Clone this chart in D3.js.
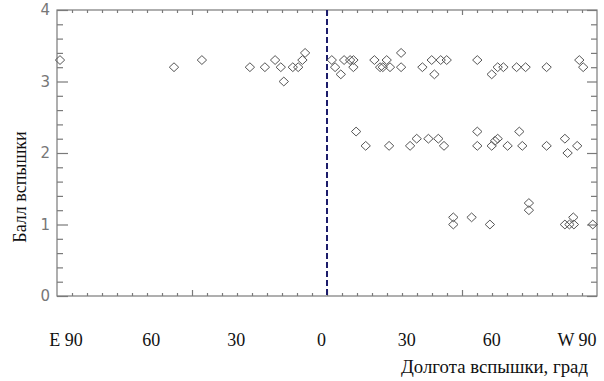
<!DOCTYPE html>
<html>
<head>
  <meta charset="utf-8">
  <script src="https://cdn.jsdelivr.net/npm/d3@7"></script>
  <style>
    body { margin: 0; background: #fff; }
    .frame { fill: none; stroke: #7a7a7a; stroke-width: 1.2; }
    .ax path { display: none; }
    .ax line { stroke: #7a7a7a; stroke-width: 1.2; }
    .ylab text { font-family: "DejaVu Sans", sans-serif; font-size: 15px; fill: #777; }
    .serif { font-family: "Liberation Serif", serif; fill: #111; }
  </style>
</head>
<body>
  <div id="chart"></div>
  <script>
    // flare points: longitude (E negative, W positive) and class score
    const lon = [
      -89, -51, -41.7, -25.7, -20.7, -17.3, -15.4, -14.4, -11.4, -9.6, -8.2, -7.3,
      1.6, 2.7, 4.6, 5.7, 7.7, 8.8, 8.8, 15.8, 17.7, 18.6, 19.9, 21, 24.7, 24.7,
      31.8, 34.9, 35.8, 37.9, 39.9, 50.1, 54.9, 56.9, 58.8, 63.2, 66.2, 73.2, 84.1, 85.4,
      9.7, 12.9, 20.7, 27.7, 29.9, 33.8, 37.1, 39, 50.1, 50.1, 54.9, 56, 56.9, 60.2,
      64.1, 65.1, 73.2, 79.3, 80.2, 83.4,
      42.1, 42.1, 48.2, 54.3, 67.3, 67.3, 79.3, 80.8, 82.1, 82.3, 88.6
    ];
    const score = [
      3.3, 3.2, 3.3, 3.2, 3.2, 3.3, 3.2, 3.0, 3.2, 3.2, 3.3, 3.4,
      3.3, 3.2, 3.1, 3.3, 3.3, 3.3, 3.2, 3.3, 3.2, 3.2, 3.3, 3.2, 3.4, 3.2,
      3.2, 3.3, 3.1, 3.3, 3.3, 3.3, 3.1, 3.2, 3.2, 3.2, 3.2, 3.2, 3.3, 3.2,
      2.3, 2.1, 2.1, 2.1, 2.2, 2.2, 2.2, 2.1, 2.3, 2.1, 2.1, 2.17, 2.2, 2.1,
      2.3, 2.1, 2.1, 2.2, 2.0, 2.1,
      1.1, 1.0, 1.1, 1.0, 1.3, 1.2, 1.0, 1.0, 1.1, 1.0, 1.0
    ];
    const lonLabelVals = [-90, -60, -30, 0, 30, 60, 90];
    const lonLabels = ["E 90", "60", "30", "0", "30", "60", "W 90"];
    const yTicks = [0, 1, 2, 3, 4];

    const data = lon.map((d, i) => ({lon: d, score: score[i]}));

    const W = 604, H = 381;
    const margin = {top: 10, right: 7, bottom: 85, left: 57};
    const width = W - margin.left - margin.right;
    const height = H - margin.top - margin.bottom;

    const svg = d3.select("#chart").append("svg")
      .attr("width", W).attr("height", H);
    const g = svg.append("g")
      .attr("transform", `translate(${margin.left},${margin.top})`);

    const x = d3.scaleLinear().domain([-90, 90]).range([0, width]);
    const y = d3.scaleLinear().domain([0, 4]).range([height, 0]);
    // hand-placed longitude labels sit a bit inside the frame
    const xl = d3.scaleLinear().domain([-90, 90]).range([9, 520]);

    const minorX = d3.range(-90, 91, 5).filter(v => v % 45 !== 0);
    const majorX = [-45, 0, 45];
    const minorY = d3.range(0, 21).map(i => i / 5).filter(v => Math.abs(v - Math.round(v)) > 1e-6);

    g.append("g").attr("class", "ax").call(d3.axisTop(x).tickValues(minorX).tickSize(-3).tickFormat(""));
    g.append("g").attr("class", "ax").call(d3.axisTop(x).tickValues(majorX).tickSize(-5).tickFormat(""));
    g.append("g").attr("class", "ax").attr("transform", `translate(0,${height})`)
      .call(d3.axisBottom(x).tickValues(minorX).tickSize(-3).tickFormat(""));
    g.append("g").attr("class", "ax").attr("transform", `translate(0,${height})`)
      .call(d3.axisBottom(x).tickValues(majorX).tickSize(-6).tickFormat(""));

    g.append("g").attr("class", "ax").call(d3.axisLeft(y).tickValues(minorY).tickSize(-6).tickFormat(""));
    g.append("g").attr("class", "ax ylab")
      .call(d3.axisLeft(y).tickValues(yTicks).tickSize(-11).tickPadding(7).tickFormat(d3.format("d")));
    g.append("g").attr("class", "ax").attr("transform", `translate(${width},0)`)
      .call(d3.axisRight(y).tickValues(minorY).tickSize(-6).tickFormat(""));
    g.append("g").attr("class", "ax").attr("transform", `translate(${width},0)`)
      .call(d3.axisRight(y).tickValues(yTicks).tickSize(-10).tickFormat(""));

    g.append("rect").attr("class", "frame")
      .attr("x", 0).attr("y", 0).attr("width", width).attr("height", height);

    g.append("line")
      .attr("x1", x(0)).attr("x2", x(0)).attr("y1", 0).attr("y2", height)
      .attr("stroke", "#1c1c6b").attr("stroke-width", 2)
      .attr("stroke-dasharray", "6,3");

    const diamond = "M0,-4.4L4.7,0L0,4.4L-4.7,0Z";
    g.selectAll(".pt").data(data).join("path")
      .attr("class", "pt")
      .attr("transform", d => `translate(${x(d.lon)},${y(d.score)})`)
      .attr("d", diamond)
      .attr("fill", "none")
      .attr("stroke", "#555")
      .attr("stroke-width", 1);

    g.selectAll(".lonlab").data(lonLabelVals).join("text")
      .attr("class", "lonlab serif")
      .attr("x", d => xl(d))
      .attr("y", height + 50)
      .attr("text-anchor", "middle")
      .attr("font-size", 18)
      .text((d, i) => lonLabels[i]);

    svg.append("text").attr("class", "serif")
      .attr("x", 588).attr("y", 373)
      .attr("text-anchor", "end")
      .attr("font-size", 18.8)
      .text("Долгота вспышки, град");

    svg.append("text").attr("class", "serif")
      .attr("transform", "translate(26,187) rotate(-90)")
      .attr("text-anchor", "middle")
      .attr("font-size", 18)
      .text("Балл вспышки");
  </script>
</body>
</html>
